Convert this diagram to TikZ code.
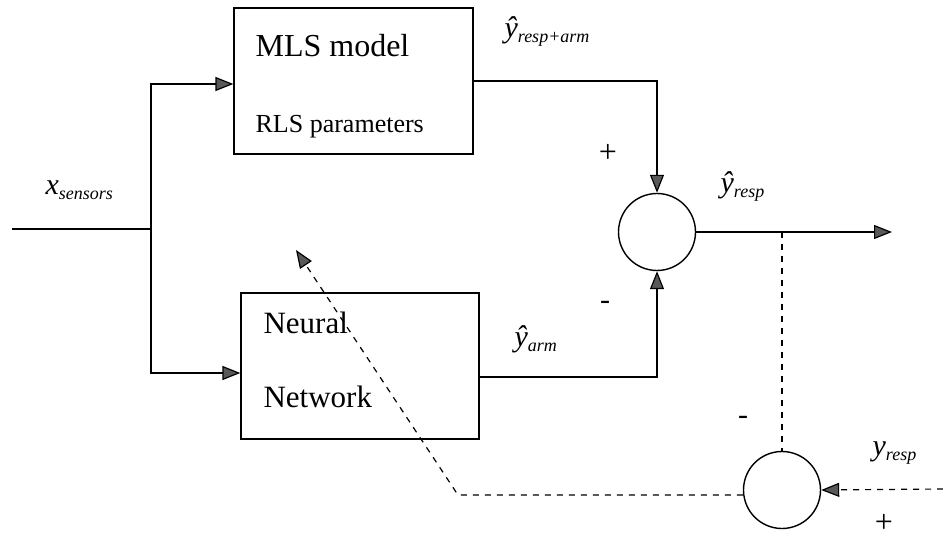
\documentclass[tikz,border=0pt]{standalone}
\usepackage{fontspec}
\setmainfont{Liberation Serif}
\usetikzlibrary{arrows.meta,calc}
\newcommand{\lblsym}[2]{{\fontsize{30}{32}\selectfont\itshape #1}\raisebox{-5pt}{\fontsize{18}{20}\selectfont\itshape #2}}
\begin{document}
\begin{tikzpicture}[x=1pt,y=-1pt, line width=1.2pt,
  box/.style={draw, rectangle, inner sep=0pt},
  sumc/.style={draw, circle, minimum size=77pt, inner sep=0pt, line width=1.4pt},
  arr/.style={-{Triangle[length=18pt,width=14pt,fill=black!65]}},
  dsh/.style={dash pattern=on 6pt off 6pt},
  txt/.style={anchor=base west, inner sep=0pt},
  sgn/.style={font=\fontsize{32}{34}\selectfont, inner sep=0pt},
  sgm/.style={font=\fontsize{30}{32}\selectfont, inner sep=0pt}]
\useasboundingbox (0,0) rectangle (943,540);
\node[box, minimum width=239pt, minimum height=146pt] (mls) at (353.5,81) {};
\node[box, minimum width=238pt, minimum height=146pt] (nn) at (360,366) {};
\node[sumc] (s1) at (657,232) {};
\node[sumc] (s2) at (782,490) {};
\node[txt, font=\fontsize{32}{34}\selectfont] (t1) at (255,57) {MLS model};
\node[txt, font=\fontsize{26}{28}\selectfont] (t2) at (255,133) {RLS parameters};
\node[txt, font=\fontsize{31}{33}\selectfont] (t3) at (263,334) {Neural};
\node[txt, font=\fontsize{31}{33}\selectfont] (t4) at (263,407) {Network};
\coordinate (in) at (12,229);
\coordinate (j) at (151,229);
\draw (in) -- (j);
\draw[arr] (j) |- ([yshift=-3pt]mls.west);
\draw[arr] (j) |- ([yshift=-7pt]nn.west);
\draw[arr] (mls.east) -| (s1.north);
\draw[arr] ([yshift=-11pt]nn.east) -| (s1.south);
\coordinate (out) at (892,232);
\draw[arr] (s1.east) -- (out);
\coordinate (br) at (782,232);
\draw[dsh] (br) -- (s2.north);
\coordinate (yin) at (943,489);
\draw[dsh, arr] (yin) -- (s2.east);
\coordinate (c) at (458,495);
\coordinate (tip) at (296,250);
\draw[dsh, arr] ([yshift=-5pt]s2.west) -- (c) -- (tip);
\node[txt] (xs) at (45,195) {\lblsym{x}{sensors}};
\node[txt] (yra) at (504,38) {\lblsym{\^{y}}{resp+arm}};
\node[txt] (yr) at (720,193) {\lblsym{\^{y}}{resp}};
\node[txt] (ya) at (514,346) {\lblsym{\^{y}}{arm}};
\node[txt] (yy) at (872,455) {\lblsym{y}{resp}};
\node[sgn] (p1) at (608,153) {+};
\node[sgm] (m1) at (605,305) {-};
\node[sgm] (m2) at (743,420) {-};
\node[sgn] (p2) at (884,523) {+};
\end{tikzpicture}
\end{document}
